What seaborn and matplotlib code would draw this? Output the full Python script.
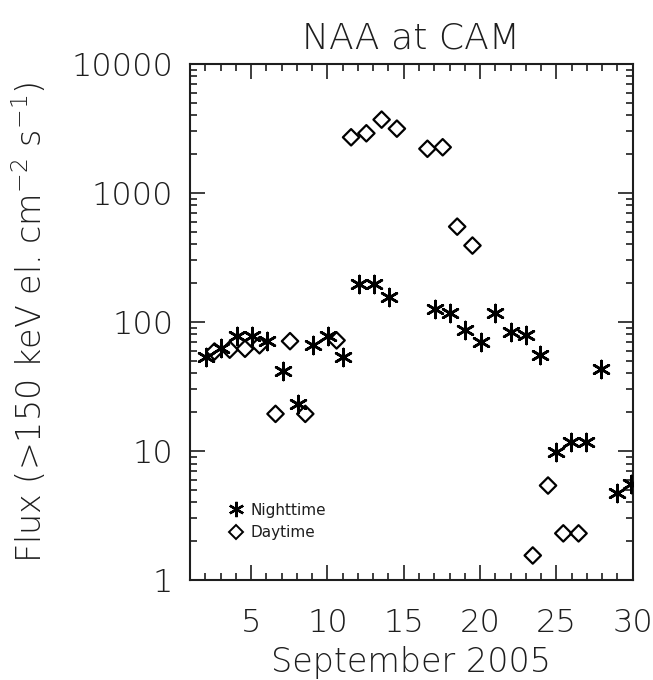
import numpy as np
import pandas as pd
import matplotlib
matplotlib.use('Agg')
import matplotlib.pyplot as plt
from matplotlib.lines import Line2D
from matplotlib.ticker import MultipleLocator, LogLocator, NullFormatter, FixedLocator
import seaborn as sns

# Data (day of September 2005, flux)
night_day = [2.05, 3.05, 4.1, 5.05, 6.05, 7.1, 8.05, 9.05, 10.05, 11.05, 12.05, 13.05,
             14.05, 17.05, 18.0, 19.0, 20.05, 21.0, 22.0, 23.0, 23.95, 24.95, 25.95,
             26.95, 27.95, 28.95, 29.9]
night_flux = [54, 63, 78, 78, 71, 42, 23, 66, 78, 54, 197, 197,
              157, 126, 117, 87, 70, 117, 83, 79, 55, 9.8, 11.7,
              11.7, 43, 4.7, 5.6]
day_day = [2.6, 3.6, 4.6, 5.55, 6.6, 7.55, 8.55, 10.6, 11.55, 12.55, 13.55, 14.55,
           16.55, 17.55, 18.5, 19.5, 23.45, 24.45, 25.45, 26.45]
day_flux = [59, 61, 62, 66, 19.4, 71, 19.4, 72, 2700, 2900, 3700, 3150,
            2200, 2260, 548, 391, 1.55, 5.4, 2.3, 2.3]

night = pd.DataFrame({'day': night_day, 'flux': night_flux})
day = pd.DataFrame({'day': day_day, 'flux': day_flux})

sns.set_style('ticks')
plt.rcParams['font.family'] = ['DejaVu Sans']
plt.rcParams['font.weight'] = 'light'
plt.rcParams['axes.titleweight'] = 'light'
plt.rcParams['axes.labelweight'] = 'light'
ink = '#1e1e1e'

fig = plt.figure(figsize=(6.53, 6.80), dpi=100)
ax = fig.add_axes([0.291, 0.147, 0.678, 0.759])

asterisk = (6, 2, 0)
sns.scatterplot(data=night, x='day', y='flux', marker=asterisk, s=150, color='black',
                linewidth=1.9, ax=ax, zorder=3)
sns.scatterplot(data=day, x='day', y='flux', marker='D', s=70, facecolor='none',
                edgecolor='black', linewidth=1.6, ax=ax, zorder=3)

ax.set_yscale('log')
ax.set_xlim(1, 30)
ax.set_ylim(1, 10000)

ax.xaxis.set_major_locator(FixedLocator([5, 10, 15, 20, 25, 30]))
ax.xaxis.set_minor_locator(MultipleLocator(1))
ax.yaxis.set_major_locator(FixedLocator([1, 10, 100, 1000, 10000]))
ax.yaxis.set_minor_locator(LogLocator(base=10, subs=np.arange(2, 10)))
ax.yaxis.set_minor_formatter(NullFormatter())
ax.set_yticklabels(['1', '10', '100', '1000', '10000'])

ax.tick_params(which='both', direction='in', top=True, right=True, width=1.2,
               labelsize=23, colors=ink)
ax.tick_params(axis='x', which='major', length=11, pad=20)
ax.tick_params(axis='y', which='major', length=11, pad=12)
ax.tick_params(which='minor', length=5)
for sp in ax.spines.values():
    sp.set_linewidth(1.5)
    sp.set_color(ink)

ax.set_title('NAA at CAM', fontsize=26, color=ink, pad=11)
ax.set_xlabel('September 2005', fontsize=24, color=ink, labelpad=6)
ax.set_ylabel('Flux (>150 keV el. cm$^{-2}$ s$^{-1}$)', fontsize=24, color=ink,
              labelpad=16)

handles = [
    Line2D([], [], linestyle='none', marker=asterisk, markersize=11, color='black',
           markeredgewidth=1.7, label='Nighttime'),
    Line2D([], [], linestyle='none', marker='D', markersize=7, markerfacecolor='none',
           markeredgecolor='black', markeredgewidth=1.4, label='Daytime'),
]
leg = ax.legend(handles=handles, loc='lower left', bbox_to_anchor=(0.06, 0.05),
                frameon=False, prop={'size': 11, 'weight': 'normal'},
                handlelength=0.8, handletextpad=0.5, labelspacing=0.5)
for t in leg.get_texts():
    t.set_color(ink)

fig.savefig('out.png', dpi=100)
